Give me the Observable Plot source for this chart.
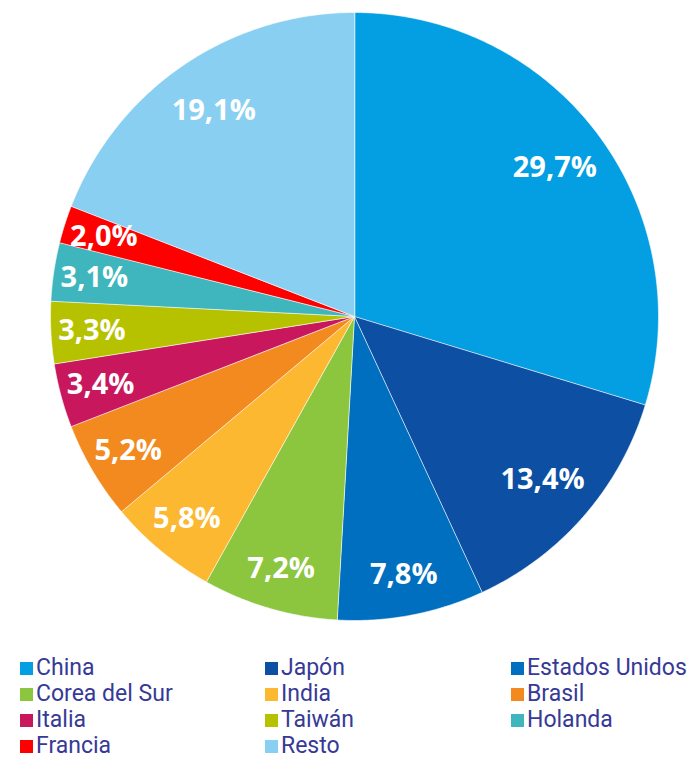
<!DOCTYPE html>
<html>
<head>
<meta charset="utf-8">
<script src="https://cdn.jsdelivr.net/npm/d3@7"></script>
<script src="https://cdn.jsdelivr.net/npm/@observablehq/plot@0.6"></script>
<style>
  body { margin: 0; background: #fff; width: 694px; height: 760px; overflow: hidden; }
  #chart svg { display: block; }
  #legend { position: relative; height: 120px; font-family: Roboto, "Open Sans", sans-serif; font-size: 23px; color: #363a96; }
  .item { position: absolute; display: flex; align-items: center; height: 20px; line-height: 20px; white-space: nowrap; }
  .sw { width: 13px; height: 13px; margin-right: 3px; flex: none; }
</style>
</head>
<body>
<div id="chart"></div>
<div id="legend"></div>
<script>
const categories = ["China", "Japón", "Estados Unidos", "Corea del Sur", "India", "Brasil", "Italia", "Taiwán", "Holanda", "Francia", "Resto"];
const values = [29.7, 13.4, 7.8, 7.2, 5.8, 5.2, 3.4, 3.3, 3.1, 2.0, 19.1];
const colors = ["#049ee3", "#0c4fa3", "#016fc0", "#8cc63f", "#fcb831", "#f28a20", "#c8175d", "#b6c200", "#3fb6bd", "#ff0000", "#89cff1"];

const W = 694, H = 640, R = 304, CX = 354, CY = 316;
const data = categories.map((c, i) => ({category: c, value: values[i], color: colors[i]}));
const arcs = d3.pie().sort(null).value(d => d.value)(data);

// polygon points for each slice (unit radius)
const pts = [];
arcs.forEach((a, i) => {
  pts.push({k: i, x: 0, y: 0});
  const n = Math.max(2, Math.ceil((a.endAngle - a.startAngle) / 0.01));
  for (let j = 0; j <= n; j++) {
    const t = a.startAngle + (a.endAngle - a.startAngle) * j / n;
    pts.push({k: i, x: Math.sin(t), y: Math.cos(t)});
  }
});
const labels = arcs.map((a, i) => {
  const m = (a.startAngle + a.endAngle) / 2;
  const r = values[i] > 10 ? 0.82 : 0.865;
  return {x: r * Math.sin(m), y: r * Math.cos(m), text: values[i].toFixed(1).replace(".", ",") + "%"};
});

const plot = Plot.plot({
  width: W, height: H,
  margin: 0,
  x: {domain: [-CX / R, (W - CX) / R], range: [0, W], axis: null},
  y: {domain: [-(H - CY) / R, CY / R], range: [H, 0], axis: null},
  marks: [
    Plot.line(pts, {x: "x", y: "y", z: "k", fill: d => colors[d.k], stroke: "#fff", strokeWidth: 0.6, curve: "linear-closed"}),
    Plot.text(labels, {x: "x", y: "y", text: "text", fill: "#fff", fontSize: 29, fontWeight: "bold", fontFamily: "'Open Sans', sans-serif"})
  ]
});
document.getElementById("chart").appendChild(plot);

const legend = document.getElementById("legend");
const colX = [20, 265, 511];
categories.forEach((c, i) => {
  const row = Math.floor(i / 3), col = i % 3;
  const el = document.createElement("div");
  el.className = "item";
  el.style.left = colX[col] + "px";
  el.style.top = (18 + row * 26) + "px";
  el.innerHTML = `<span class="sw" style="background:${colors[i]}"></span><span>${c}</span>`;
  legend.appendChild(el);
});
</script>
</body>
</html>
